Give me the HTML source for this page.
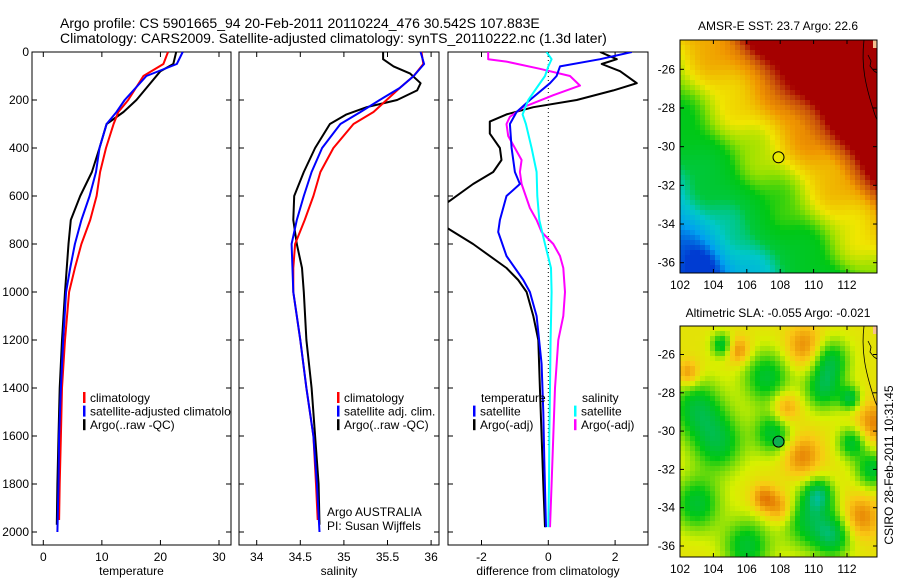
<!DOCTYPE html>
<html><head><meta charset="utf-8">
<style>
html,body{margin:0;padding:0;background:#fff;}
svg{display:block;font-family:"Liberation Sans",sans-serif;}
text{fill:#000;}
</style></head>
<body>
<svg id="fig" width="900" height="580" viewBox="0 0 900 580">
<defs><clipPath id="clipD"><rect x="448" y="52" width="200" height="493"/></clipPath></defs>
<text x="60" y="28" font-size="14">Argo profile: CS 5901665_94 20-Feb-2011 20110224_476 30.542S 107.883E</text>
<text x="60" y="43" font-size="14">Climatology: CARS2009. Satellite-adjusted climatology: synTS_20110222.nc (1.3d later)</text>
<text x="778" y="30" font-size="12" text-anchor="middle">AMSR-E SST: 23.7 Argo: 22.6</text>
<text x="778" y="317" font-size="12" text-anchor="middle">Altimetric SLA: -0.055 Argo: -0.021</text>
<text transform="translate(893,465) rotate(-90)" font-size="12" text-anchor="middle">CSIRO 28-Feb-2011 10:31:45</text>
<g id="layer"></g>
</svg>
<script>
// ---- data ----
const tDepth = [0,50,100,200,250,300,400,500,600,700,800,900,1000,1200,1400,1600,1800,1950];
const tClim  = [21.3,20.5,17.1,14.5,12.8,12,10.7,9.7,9.1,8,6.5,5.4,4.4,3.7,3.2,3,2.8,2.7];
const tSatDepth = [0,50,100,200,250,300,400,500,600,700,800,900,1000,1200,1400,1600,1800,2000];
const tSat  = [23.8,22.8,17.6,13.9,12.5,10.8,9.6,9,7.9,6.5,5.4,4.6,3.9,3.4,3,2.7,2.6,2.4];
const tArgoDepth = [0,50,80,150,200,250,300,400,500,600,700,800,1000,1200,1400,1600,1800,1970];
const tArgo = [22.7,22.2,20,17.6,15.9,13.7,10.8,9.6,8.3,6.3,4.7,4.3,3.7,3.2,2.8,2.6,2.4,2.3];

const sDepth = [0,50,100,150,200,250,300,400,500,600,700,800,900,1000,1200,1400,1600,1800,1950];
const sClim  = [35.89,35.91,35.8,35.64,35.49,35.34,35.11,34.88,34.73,34.65,34.55,34.44,34.42,34.42,34.5,34.57,34.65,34.68,34.7];
const sSatDepth = [0,50,100,150,200,250,300,400,500,600,700,800,1000,1200,1400,1600,1800,2000];
const sSat  = [35.88,35.92,35.8,35.64,35.41,35.19,34.96,34.75,34.63,34.54,34.46,34.4,34.42,34.5,34.57,34.65,34.69,34.72];
const sArgoDepth = [0,30,60,90,130,160,200,230,260,300,400,500,600,700,800,900,1000,1200,1400,1600,1800,1970];
const sArgo = [35.45,35.45,35.57,35.76,35.88,35.84,35.61,35.26,35.03,34.84,34.67,34.54,34.43,34.42,34.46,34.52,34.54,34.57,34.63,34.67,34.71,34.72];

const dTSatDepth = [0,30,60,100,130,200,250,300,400,500,550,600,700,750,850,950,1000,1100,1300,1500,1700,1980];
const dTSat = [2.5,1.55,0.35,0.25,0.05,-0.55,-0.95,-1.15,-1.1,-1,-0.85,-1.25,-1.45,-1.5,-1.25,-0.75,-0.55,-0.35,-0.2,-0.15,-0.12,-0.07];
const dTArgoDepth = [0,30,50,80,130,160,200,230,260,290,340,400,450,500,550,620,680,740,800,900,950,1000,1100,1200,1400,1600,1800,1980];
const dTArgo = [1.55,2.05,1.6,2.15,2.65,1.95,0.85,-0.45,-1.25,-1.75,-1.75,-1.45,-1.4,-1.65,-2.25,-2.95,-3.6,-2.95,-2.25,-1.25,-0.9,-0.65,-0.45,-0.3,-0.25,-0.2,-0.15,-0.1];
const dSSatDepth = [0,30,60,100,150,200,260,300,400,500,600,700,800,900,1000,1200,1400,1600,1800,1980];
const dSSat = [-0.05,0.1,0,-0.1,-0.35,-0.6,-0.77,-0.67,-0.5,-0.35,-0.33,-0.27,-0.1,0.08,0.1,0.07,0.05,0.03,0.02,0];
const dSArgoDepth = [0,30,40,70,100,140,180,230,270,300,350,400,450,500,550,650,700,750,800,850,900,1000,1100,1200,1400,1600,1800,1980];
const dSArgo = [-1.8,-1.8,-1.25,-0.25,0.65,0.95,0.15,-0.75,-1.15,-1.25,-1.2,-1,-0.8,-0.85,-0.8,-0.55,-0.35,-0.2,0.15,0.35,0.45,0.5,0.45,0.3,0.2,0.15,0.1,0.05];

const depthTicks = [0,200,400,600,800,1000,1200,1400,1600,1800,2000];
const tTicks = [0,10,20,30];
const sTicks = [34,34.5,35,35.5,36];
const sTickLabels = ["34","34.5","35","35.5","36"];
const dTicks = [-2,0,2];
const lonTicks = [102,104,106,108,110,112];
const latTicks = [-26,-28,-30,-32,-34,-36];

// ---- helpers ----
const NS = "http://www.w3.org/2000/svg";
const layer = document.getElementById('layer');
function mk(tag, attrs, parent){ const e=document.createElementNS(NS,tag); for(const k in attrs) e.setAttribute(k,attrs[k]); (parent||layer).appendChild(e); return e; }
const yD = d => 52 + d*0.24;
const PT = {x0:32,x1:231,y0:52,y1:545};
const PS = {x0:239,x1:439,y0:52,y1:545};
const PD = {x0:448,x1:648,y0:52,y1:545};
const xT = v => 43.3 + v*(175.7/30);
const xS = v => 256.7 + (v-34)*87.2;
const xD = v => 548.3 + v*33.4;

function frame(P, name, xt, xfn, xlabels, xtitle, showDepth){
  const g = mk('g',{});
  
  
  const r = mk('rect',{x:P.x0,y:P.y0,width:P.x1-P.x0,height:P.y1-P.y0,fill:'#fff',stroke:'#000','stroke-width':1},g);
  
  
  xt.forEach((v,i)=>{
    const x=xfn(v);
    mk('line',{x1:x,x2:x,y1:P.y1,y2:P.y1-5,stroke:'#000'},g);
    mk('line',{x1:x,x2:x,y1:P.y0,y2:P.y0+5,stroke:'#000'},g);
    const t=mk('text',{x:x,y:P.y1+16,'font-size':12,'text-anchor':'middle'},g);
    t.textContent=xlabels[i];
    
    
  });
  depthTicks.forEach(d=>{
    const y=yD(d);
    mk('line',{x1:P.x0,x2:P.x0+5,y1:y,y2:y,stroke:'#000'},g);
    mk('line',{x1:P.x1,x2:P.x1-5,y1:y,y2:y,stroke:'#000'},g);
    if(showDepth){
      const t=mk('text',{x:P.x0-3,y:y+4,'font-size':12,'text-anchor':'end'},g);
      t.textContent=d;
      
      
    }
  });
  const tt=mk('text',{x:(P.x0+P.x1)/2,y:575,'font-size':12,'text-anchor':'middle'},g);
  tt.textContent=xtitle;
  
  
  return g;
}
function line(xs, ds, xfn, color, w, name, clip){
  const pts = xs.map((v,i)=>xfn(v).toFixed(1)+','+yD(ds[i]).toFixed(1)).join(' ');
  const p = mk('polyline',{points:pts,fill:'none',stroke:color,'stroke-width':w,'stroke-linejoin':'round'});
  if(clip) p.setAttribute('clip-path','url(#clipD)');
  
  
}
function legend(x, y, items, name){
  const g=mk('g',{});
  
  
  items.forEach((it,i)=>{
    const yy=y+i*13.6;
    if(it[1]) mk('rect',{x:x,y:yy-6,width:2.5,height:11,fill:it[1]},g);
    const t=mk('text',{x:x+7,y:yy+4,'font-size':12},g);
    t.textContent=it[0];
    
    
  });
}

// ---- panel 1 temperature ----
frame(PT,'temperature-panel',tTicks,xT,tTicks.map(String),'temperature',true);
line(tArgo,tArgoDepth,xT,'#000',2,'temp-argo-line');
line(tClim,tDepth,xT,'#f00',2,'temp-climatology-line');
line(tSat,tSatDepth,xT,'#00f',2,'temp-satellite-line');
legend(83,398,[['climatology','#f00'],['satellite-adjusted climatology','#00f'],['Argo(..raw -QC)','#000']],'temperature-legend');
mk('rect',{x:231.5,y:390,width:7,height:30,fill:'#fff'});

// ---- panel 2 salinity ----
frame(PS,'salinity-panel',sTicks,xS,sTickLabels,'salinity',false);
line(sArgo,sArgoDepth,xS,'#000',2,'sal-argo-line');
line(sClim,sDepth,xS,'#f00',2,'sal-climatology-line');
line(sSat,sSatDepth,xS,'#00f',2,'sal-satellite-line');
legend(337,398,[['climatology','#f00'],['satellite adj. clim.','#00f'],['Argo(..raw -QC)','#000']],'salinity-legend');
let t1=mk('text',{x:327,y:516,'font-size':12}); t1.textContent='Argo AUSTRALIA';


let t2=mk('text',{x:327,y:530,'font-size':12}); t2.textContent='PI: Susan Wijffels';



// ---- panel 3 difference ----
frame(PD,'difference-panel',dTicks,xD,dTicks.map(String),'difference from climatology',false);
mk('line',{x1:xD(0),x2:xD(0),y1:PD.y0,y2:yD(1650),stroke:'#000','stroke-dasharray':'1,3'});
line(dTArgo,dTArgoDepth,xD,'#000',2,'diff-temp-argo-line',true);
line(dSArgo,dSArgoDepth,xD,'#f0f',2,'diff-sal-argo-line',true);
line(dTSat,dTSatDepth,xD,'#00f',2,'diff-temp-satellite-line',true);
line(dSSat,dSSatDepth,xD,'#0ff',2,'diff-sal-satellite-line',true);
legend(474,398,[['temperature',null]],'diff-legend-temp-header');
legend(473,411.6,[['satellite','#00f'],['Argo(-adj)','#000']],'diff-legend-temp');
legend(575,398,[['salinity',null]],'diff-legend-sal-header');
legend(574,411.6,[['satellite','#0ff'],['Argo(-adj)','#f0f']],'diff-legend-sal');

// ---- maps ----
function rgb(c){return 'rgb('+c.join(',')+')';}
function lerpColor(stops, v){
  if(v<=stops[0][0]) return rgb(stops[0][1]);
  for(let i=1;i<stops.length;i++){
    if(v<=stops[i][0]){
      const a=stops[i-1],b=stops[i],f=(v-a[0])/(b[0]-a[0]);
      return rgb([0,1,2].map(k=>Math.round(a[1][k]+(b[1][k]-a[1][k])*f)));
    }
  }
  return rgb(stops[stops.length-1][1]);
}
const sstStops=[[0,[0,60,210]],[0.12,[0,160,240]],[0.25,[0,200,200]],[0.35,[0,200,60]],[0.48,[0,200,20]],[0.58,[150,225,0]],[0.66,[240,230,0]],[0.8,[240,150,0]],[0.95,[200,80,10]],[1.05,[165,0,0]]];
const slaStops=[[0,[0,190,160]],[0.15,[0,190,70]],[0.3,[0,200,20]],[0.45,[120,220,10]],[0.58,[215,240,0]],[0.75,[250,200,20]],[1,[225,110,0]]];
function map(M, field, stops, name, circleFill){
  const g=mk('g',{});
  
  
  const lonX = lo => M.x0 + (lo-102)*16.7;
  const latY = la => M.yRef + (-26-la)*M.dy;
  const cs=5;
  for(let x=M.x0;x<M.x1;x+=cs){
    for(let y=M.y0;y<M.y1;y+=cs){
      const lo=102+(x+cs/2-M.x0)/16.7, la=-26-(y+cs/2-M.yRef)/M.dy;
      mk('rect',{x:x,y:y,width:Math.min(cs,M.x1-x)+0.3,height:Math.min(cs,M.y1-y)+0.3,fill:lerpColor(stops,field(lo,la))},g);
    }
  }
  mk('path',{d:`M${M.x1-13},${M.y0} C${M.x1-16},${M.y0+25} ${M.x1-12},${M.y0+45} ${M.x1-2},${M.y0+75} L${M.x1},${M.y0+80}`,fill:'none',stroke:'#000','stroke-width':0.8},g);
  mk('path',{d:`M${M.x1-9},${M.y0+15} l3,6 l-1,5 l4,5 l3,2`,fill:'none',stroke:'#000','stroke-width':0.8},g);
  mk('rect',{x:M.x1-4,y:M.y0,width:4,height:8,fill:'#f6c090'},g);
  mk('rect',{x:M.x0,y:M.y0,width:M.x1-M.x0,height:M.y1-M.y0,fill:'none',stroke:'#000'},g);
  lonTicks.forEach(lo=>{const x=lonX(lo);
    mk('line',{x1:x,x2:x,y1:M.y1,y2:M.y1-4,stroke:'#000'},g);
    mk('line',{x1:x,x2:x,y1:M.y0,y2:M.y0+4,stroke:'#000'},g);
    const t=mk('text',{x:x,y:M.y1+16,'font-size':12,'text-anchor':'middle'},g); t.textContent=lo;
    
    });
  latTicks.forEach(la=>{const y=latY(la);
    mk('line',{x1:M.x0,x2:M.x0+4,y1:y,y2:y,stroke:'#000'},g);
    mk('line',{x1:M.x1,x2:M.x1-4,y1:y,y2:y,stroke:'#000'},g);
    const t=mk('text',{x:M.x0-5,y:y+4,'font-size':12,'text-anchor':'end'},g); t.textContent=la;
    
    });
  const c=mk('circle',{cx:lonX(107.9),cy:latY(-30.55),r:5.5,fill:circleFill,stroke:'#000','stroke-width':1},g);
  
  
}
function sstField(lo,la){
  const u=(lo-102)/11.8, v=(la+36.6)/12;
  let s=0.6*u+0.7*v+1.0*Math.max(0,u+v-1.25);
  s+=0.025*Math.sin(lo*1.7+la*0.9)+0.02*Math.cos(lo*0.8-la*1.9);
  s-=0.15*Math.exp(-((lo-103.5)**2+(la+36)**2)/1.5);
  return s;
}
const greens=[[103,-28.8,1.1],[104.3,-30.6,1.1],[107.2,-27.2,1.0],[107.6,-30.1,0.8],[111,-26.3,0.8],[110.6,-27.8,0.8],[112.3,-30.6,0.6],[113.5,-32,0.7],[109.7,-34.6,1.1],[106,-36,1.0],[103,-33.8,1],[111.2,-35.5,0.8],[112.2,-28.3,0.45],[104.5,-25.5,0.45],[110.3,-33.3,0.6]];
const oranges=[[108.3,-28.8,0.6],[109.3,-31.3,0.8],[109.5,-25.6,0.8],[113.6,-29.6,0.8],[112.8,-34.5,0.8],[108,-34,0.6],[102.5,-27,0.5],[105.5,-25.8,0.5],[107,-33.5,0.5]];
function slaField(lo,la){
  let s=0.64;
  greens.forEach(b=>{s-=0.42*Math.exp(-((lo-b[0])**2+(la-b[1])**2)/(2*b[2]*b[2]));});
  oranges.forEach(b=>{s+=0.3*Math.exp(-((lo-b[0])**2+(la-b[1])**2)/(2*b[2]*b[2]));});
  return s;
}
map({x0:680,x1:877,y0:40,y1:273,yRef:69.3,dy:19.34},sstField,sstStops,'sst-map','#e8e800');
map({x0:680,x1:877,y0:326,y1:557,yRef:354.5,dy:19.15},slaField,slaStops,'sla-map','#10b050');
</script>
</body></html>
